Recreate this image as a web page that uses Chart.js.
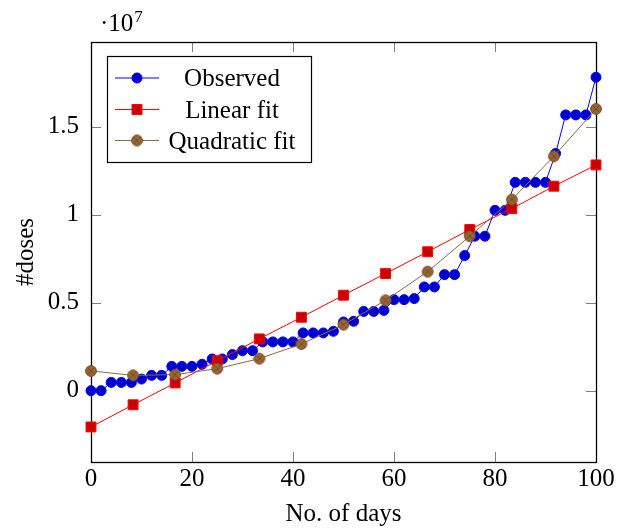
<!DOCTYPE html>
<html><head><meta charset="utf-8">
<script src="https://cdn.jsdelivr.net/npm/chart.js@4.4.0/dist/chart.umd.min.js"></script>
<style>html,body{margin:0;padding:0;background:#fff}#wrap{width:622px;height:529px;position:relative}</style>
</head><body><div id="wrap"><canvas id="c" width="622" height="529"></canvas></div>
<script>
const days = [0,2,4,6,8,10,12,14,16,18,20,22,24,26,28,30,32,34,36,38,40,42,44,46,48,50,52,54,56,58,60,62,64,66,68,70,72,74,76,78,80,82,84,86,88,90,92,94,96,98,100];
const observed = [0,0,470000,470000,470000,660000,870000,870000,1380000,1380000,1380000,1500000,1800000,1800000,2050000,2270000,2270000,2770000,2770000,2770000,2770000,3280000,3280000,3280000,3370000,3900000,3940000,4500000,4500000,4560000,5170000,5170000,5230000,5890000,5890000,6590000,6590000,7670000,8770000,8770000,10240000,10240000,11830000,11830000,11830000,11830000,13470000,15660000,15660000,15660000,17800000];
const fitDays = [0,8.333,16.667,25,33.333,41.667,50,58.333,66.667,75,83.333,91.667,100];
const linearFit = [-2060000,-800000,440000,1700000,2940000,4170000,5420000,6650000,7890000,9150000,10340000,11610000,12820000];
const quadraticFit = [1120000,870000,910000,1250000,1820000,2650000,3750000,5130000,6760000,8770000,10850000,13310000,16000000];
const seriesNames = ['Observed','Linear fit','Quadratic fit'];
const xTicks = [0,20,40,60,80,100];
const xTickLabels = ['0','20','40','60','80','100'];
const yTicks = [0,5000000,10000000,15000000];
const yTickLabels = ['0','0.5','1','1.5'];
const yExponent = '7';

const FONT = "'Liberation Serif','Times New Roman',serif";

function otimesMark(){
  const c=document.createElement('canvas'); c.width=14; c.height=14;
  const g=c.getContext('2d');
  g.beginPath(); g.arc(7,7,5.4,0,2*Math.PI);
  g.fillStyle='#996633'; g.fill();
  g.lineWidth=1; g.strokeStyle='#734D26'; g.stroke();
  const d=5.4*Math.SQRT1_2;
  g.beginPath(); g.moveTo(7-d,7-d); g.lineTo(7+d,7+d); g.moveTo(7+d,7-d); g.lineTo(7-d,7+d); g.stroke();
  return c;
}
const oMark = otimesMark();

const styles = [
  {line:'#0000FF', fill:'#0000CC', stroke:'#0000FF', style:'circle', r:5},
  {line:'#FF0000', fill:'#CC0000', stroke:'#FF0000', style:'rect', r:7},
  {line:'#8C6A45', fill:'#996633', stroke:'#734D26', style:oMark, r:7}
];

function pts(xs, ys){ return xs.map((x,i)=>({x:x, y:ys[i]})); }

const axisPlugin = {
  id:'pgfaxis',
  beforeDatasetsDraw(chart){
    const ctx=chart.ctx, a=chart.chartArea, xs=chart.scales.x, ys=chart.scales.y;
    ctx.save();
    ctx.strokeStyle='#808080'; ctx.lineWidth=1;
    const L=10;
    xTicks.forEach(v=>{
      const p=Math.round(xs.getPixelForValue(v))+0.5;
      ctx.beginPath(); ctx.moveTo(p,a.bottom); ctx.lineTo(p,a.bottom-L);
      ctx.moveTo(p,a.top); ctx.lineTo(p,a.top+L); ctx.stroke();
    });
    yTicks.forEach(v=>{
      const p=Math.round(ys.getPixelForValue(v))+0.5;
      ctx.beginPath(); ctx.moveTo(a.left,p); ctx.lineTo(a.left+L,p);
      ctx.moveTo(a.right,p); ctx.lineTo(a.right-L,p); ctx.stroke();
    });
    ctx.strokeStyle='#000'; ctx.lineWidth=1.3;
    ctx.strokeRect(a.left+0.5,a.top+0.5,a.right-a.left,a.bottom-a.top);
    ctx.restore();
  },
  afterDraw(chart){
    const ctx=chart.ctx, a=chart.chartArea;
    ctx.save();
    ctx.fillStyle='#000'; ctx.textBaseline='alphabetic'; ctx.textAlign='left';
    ctx.font='25px '+FONT;
    const base='\u00B710';
    ctx.fillText(base, a.left+9, 31);
    const w=ctx.measureText(base).width;
    ctx.font='17px '+FONT;
    ctx.fillText(yExponent, a.left+9+w+1, 22);
    const bx=a.left+16, by=a.top+14, bw=204, bh=106;
    ctx.fillStyle='#fff'; ctx.fillRect(bx,by,bw,bh);
    ctx.strokeStyle='#000'; ctx.lineWidth=1.2; ctx.strokeRect(bx+0.5,by+0.5,bw,bh);
    const rowY=[by+22, by+53.5, by+84.5];
    seriesNames.forEach((name,i)=>{
      const s=styles[i], y=rowY[i];
      ctx.strokeStyle=s.line; ctx.lineWidth=1;
      ctx.beginPath(); ctx.moveTo(bx+8,y); ctx.lineTo(bx+52,y); ctx.stroke();
      const cx=bx+30;
      if(s.style==='circle'){
        ctx.beginPath(); ctx.arc(cx,y,s.r,0,2*Math.PI); ctx.fillStyle=s.fill; ctx.fill(); ctx.strokeStyle=s.stroke; ctx.stroke();
      } else if(s.style==='rect'){
        const h=s.r*Math.SQRT1_2;
        ctx.fillStyle=s.fill; ctx.fillRect(cx-h,y-h,2*h,2*h); ctx.strokeStyle=s.stroke; ctx.strokeRect(cx-h,y-h,2*h,2*h);
      } else {
        ctx.drawImage(s.style, cx-7, y-7);
      }
      ctx.fillStyle='#000'; ctx.font='25px '+FONT; ctx.textAlign='center'; ctx.textBaseline='alphabetic';
      ctx.fillText(name, bx+125, y+8);
    });
    ctx.restore();
  }
};

function ds(i, xs, ys, order){
  const s=styles[i];
  return {
    label: seriesNames[i], data: pts(xs, ys), order: order,
    borderColor: s.line, borderWidth: 1, backgroundColor: s.fill,
    pointStyle: s.style, pointRadius: s.r, pointHoverRadius: s.r,
    pointBackgroundColor: s.fill, pointBorderColor: s.stroke, pointBorderWidth: 1,
    tension: 0, fill: false, clip: false
  };
}

new Chart(document.getElementById('c'), {
  type:'line',
  data:{ datasets:[
    ds(0, days, observed, 2),
    ds(1, fitDays, linearFit, 1),
    ds(2, fitDays, quadraticFit, 0)
  ]},
  options:{
    responsive:false, animation:false, devicePixelRatio:1,
    layout:{ padding:{ top:42, right:26, left:0, bottom:0 } },
    plugins:{ legend:{display:false}, tooltip:{enabled:false} },
    events:[],
    scales:{
      x:{
        type:'linear', min:0, max:100,
        afterBuildTicks:s=>{ s.ticks=xTicks.map(v=>({value:v})); },
        afterFit:s=>{ s.height=67; },
        grid:{display:false}, border:{display:false},
        ticks:{ color:'#000', font:{family:FONT, size:25}, padding:-6, maxRotation:0,
          callback:(v,i)=>xTickLabels[i] },
        title:{ display:true, text:'No. of days', color:'#000', font:{family:FONT, size:25}, padding:0 }
      },
      y:{
        type:'linear', min:-4050000, max:19800000,
        afterBuildTicks:s=>{ s.ticks=yTicks.map(v=>({value:v})); },
        afterFit:s=>{ s.width=91; },
        grid:{display:false}, border:{display:false},
        ticks:{ color:'#000', font:{family:FONT, size:25}, padding:4,
          callback:(v,i)=>yTickLabels[i] },
        title:{ display:true, text:'#doses', color:'#000', font:{family:FONT, size:25}, padding:{top:11,bottom:0} }
      }
    }
  },
  plugins:[axisPlugin]
});
</script></body></html>
